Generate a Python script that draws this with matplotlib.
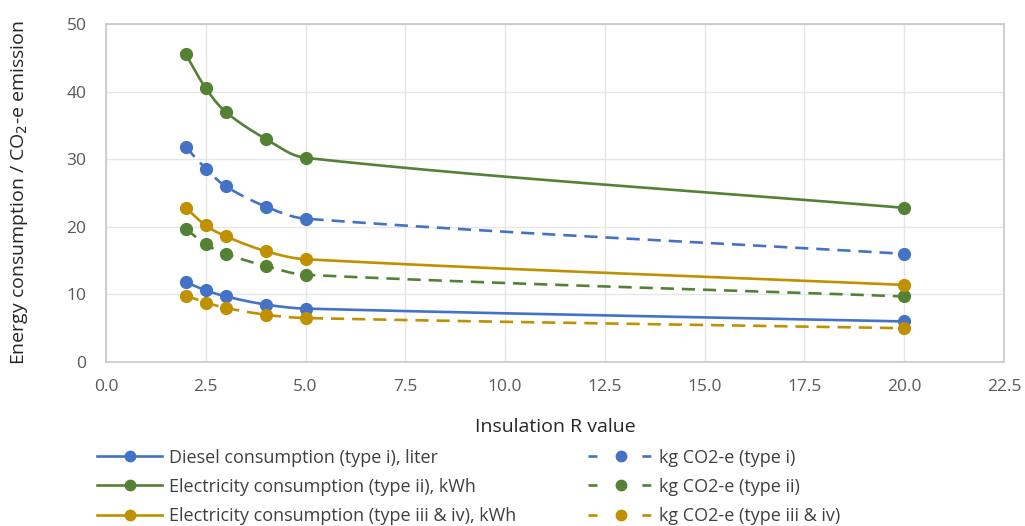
import numpy as np
import matplotlib.pyplot as plt
from matplotlib.lines import Line2D

# Insulation R values and results per series
r_values = [2.0, 2.5, 3.0, 4.0, 5.0, 20.0]
diesel_i = [11.8, 10.6, 9.7, 8.5, 7.9, 6.0]
co2_i = [31.8, 28.6, 26.0, 23.0, 21.2, 16.0]
elec_ii = [45.5, 40.5, 37.0, 33.0, 30.2, 22.8]
co2_ii = [19.7, 17.4, 16.0, 14.2, 12.9, 9.7]
elec_iii_iv = [22.8, 20.2, 18.6, 16.4, 15.2, 11.4]
co2_iii_iv = [9.8, 8.8, 8.0, 7.0, 6.5, 5.0]

labels = ['Diesel consumption (type i), liter', 'kg CO2-e (type i)',
          'Electricity consumption (type ii), kWh', 'kg CO2-e (type ii)',
          'Electricity consumption (type iii & iv), kWh', 'kg CO2-e (type iii & iv)']

BLUE = '#4472C4'
GREEN = '#548235'
GOLD = '#BF9000'

plt.rcParams['font.family'] = ['Open Sans', 'DejaVu Sans']

XMAX, YMAX = 22.5, 50


def smooth(x, y, sx, sy, n=60):
    # bezier smoothing like a spreadsheet "smoothed line", done in pixel space
    p = np.column_stack([np.asarray(x, float) * sx, np.asarray(y, float) * sy])
    k = len(p)
    tang = np.zeros_like(p)
    for i in range(k):
        a = p[max(i - 1, 0)]
        b = p[min(i + 1, k - 1)]
        d = b - a
        tang[i] = d / np.hypot(*d)
    pts = [p[0]]
    t = np.linspace(0, 1, n)[1:, None]
    for i in range(k - 1):
        chord = np.hypot(*(p[i + 1] - p[i]))
        c1 = p[i] + tang[i] * chord / 3
        c2 = p[i + 1] - tang[i + 1] * chord / 3
        seg = ((1 - t) ** 3) * p[i] + 3 * ((1 - t) ** 2) * t * c1 \
            + 3 * (1 - t) * t ** 2 * c2 + t ** 3 * p[i + 1]
        pts.extend(seg)
    pts = np.array(pts)
    return pts[:, 0] / sx, pts[:, 1] / sy


fig = plt.figure(figsize=(10.25, 5.26), dpi=100)
ax = fig.add_axes([0.1034, 0.3118, 0.8761, 0.6426])
bw = 0.8761 * 1025 / XMAX
bh = 0.6426 * 526 / YMAX

series = [
    (diesel_i, BLUE, '-'),
    (co2_i, BLUE, '--'),
    (elec_ii, GREEN, '-'),
    (co2_ii, GREEN, '--'),
    (elec_iii_iv, GOLD, '-'),
    (co2_iii_iv, GOLD, '--'),
]

handles = []
for (vals, col, ls), lab in zip(series, labels):
    xs, ys = smooth(r_values, vals, bw, bh)
    line, = ax.plot(xs, ys, color=col, lw=1.9, ls=ls, zorder=2)
    if ls == '--':
        line.set_dashes((5, 3))
    ax.plot(r_values, vals, 'o', color=col, ms=8.5, zorder=3)
    h = Line2D([0], [0], color=col, lw=1.9, ls=ls, marker='o', ms=7.5)
    if ls == '--':
        h.set_dashes((3.4, 17.0))
    handles.append(h)

ax.set_xlim(0, XMAX)
ax.set_ylim(0, YMAX)
ax.set_xticks(np.arange(0, 22.6, 2.5))
ax.set_xticklabels([f'{v:.1f}' for v in np.arange(0, 22.6, 2.5)])
ax.set_yticks(range(0, 51, 10))
ax.grid(True, color='#E6E6E6', lw=1)
ax.set_axisbelow(True)
ax.tick_params(length=0, labelsize=12.5, labelcolor='#595959')
ax.tick_params(axis='x', pad=12.5)
ax.tick_params(axis='y', pad=14)
for s in ax.spines.values():
    s.set_color('#C8C8C8')
    s.set_linewidth(1.2)

ax.set_xlabel('Insulation R value', fontsize=14, color='#262626', labelpad=16)
ax.set_ylabel('Energy consumption / CO$_2$-e emission', fontsize=14,
              color='#262626', labelpad=26)

# legend: solid series left column, emission series right column
order = [0, 2, 4, 1, 3, 5]
fig.legend([handles[i] for i in order], [labels[i] for i in order],
           ncol=2, loc='lower left', bbox_to_anchor=(0.079, -0.029),
           frameon=False, fontsize=13, handlelength=3.6,
           columnspacing=4.0, labelspacing=0.62, handletextpad=0.35,
           labelcolor='#404040')

fig.savefig('out.png', dpi=100)
